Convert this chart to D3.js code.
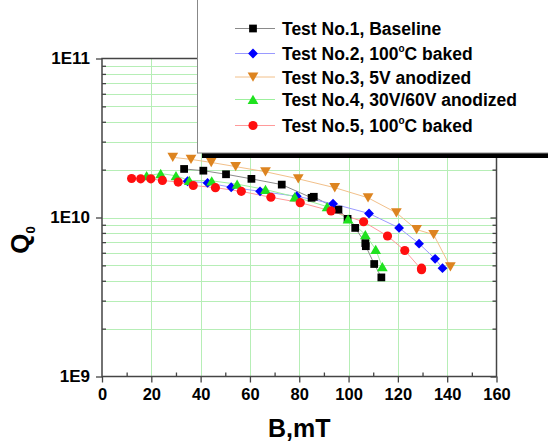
<!DOCTYPE html>
<html>
<head>
<meta charset="utf-8">
<script src="https://cdn.jsdelivr.net/npm/d3@7"></script>
<style>
  html, body { margin: 0; padding: 0; background: #fff; }
  svg { display: block; }
  text { font-family: "Liberation Sans", Arial, sans-serif; font-weight: bold; fill: #000; }
</style>
</head>
<body>
<script>
// ---- data ----
const xTickValues = [0, 20, 40, 60, 80, 100, 120, 140, 160];
const xMinorValues = [10, 30, 50, 70, 90, 110, 130, 150];
const yTickValues = [1e9, 1e10, 1e11];
const yTickLabels = ["1E9", "1E10", "1E11"];
const xTitle = "B,mT";

const test1B = [33.3, 41.1, 50.3, 60.6, 72.9, 85.0, 85.9, 95.9, 99.6, 102.7, 106.8, 107.0, 110.4, 113.3];
const test1Q = [2.02e10, 1.97e10, 1.87e10, 1.75e10, 1.61e10, 1.33e10, 1.35e10, 1.12e10, 9.8e9, 8.6e9, 6.9e9, 6.6e9, 5.1e9, 4.2e9];

const test2B = [34.7, 42.8, 52.4, 64.1, 79.0, 93.7, 108.3, 120.5, 128.6, 135.1, 138.1];
const test2Q = [1.69e10, 1.65e10, 1.55e10, 1.46e10, 1.36e10, 1.22e10, 1.06e10, 8.6e9, 6.85e9, 5.5e9, 4.8e9];

const test3B = [28.7, 36.1, 44.3, 54.2, 66.3, 79.6, 94.4, 107.9, 119.4, 127.6, 134.5, 141.3];
const test3Q = [2.39e10, 2.32e10, 2.22e10, 2.09e10, 1.94e10, 1.75e10, 1.54e10, 1.33e10, 1.07e10, 8.4e9, 7.8e9, 4.9e9];

const test4B = [18.1, 23.8, 30.0, 35.4, 44.5, 54.8, 66.3, 78.2, 91.3, 99.8, 106.8, 111.0, 113.7];
const test4Q = [1.83e10, 1.89e10, 1.83e10, 1.71e10, 1.70e10, 1.62e10, 1.50e10, 1.35e10, 1.17e10, 9.8e9, 7.8e9, 6.3e9, 4.9e9];

const test5B = [12.0, 15.7, 19.8, 24.5, 30.9, 37.0, 46.0, 56.5, 68.5, 80.4, 92.9, 106.1, 115.8, 122.8, 129.6, 129.6];
const test5Q = [1.76e10, 1.75e10, 1.75e10, 1.71e10, 1.67e10, 1.59e10, 1.54e10, 1.46e10, 1.34e10, 1.24e10, 1.10e10, 9.4e9, 7.65e9, 6.2e9, 4.7e9, 4.8e9];

const seriesNames = ["Test No.1, Baseline", "Test No.2, 100|C baked", "Test No.3, 5V anodized", "Test No.4, 30V/60V anodized", "Test No.5, 100|C baked"];
const seriesColors = ["#000000", "#0000ff", "#dd8420", "#1fe21f", "#ff0f0f"];
const lineColors = ["#8a8a8a", "#9a9aff", "#f2c08a", "#9cf09c", "#ff9a9a"];
const seriesSymbols = ["square", "diamond", "down", "up", "circle"];

const series = [
  {B: test1B, Q: test1Q},
  {B: test2B, Q: test2Q},
  {B: test3B, Q: test3Q},
  {B: test4B, Q: test4Q},
  {B: test5B, Q: test5Q}
].map((s, i) => ({
  name: seriesNames[i], color: seriesColors[i], lineColor: lineColors[i], sym: seriesSymbols[i],
  pts: s.B.map((b, j) => ({b: b, q: s.Q[j]}))
}));

// ---- layout ----
const W = 548, H = 444;
const svg = d3.select("body").append("svg").attr("width", W).attr("height", H);

const x = d3.scaleLinear().domain([0, 160]).range([102, 496.5]);
const y = d3.scaleLog().domain([1e9, 1e11]).range([376.5, 58.5]);

const yMinor = [];
[1e9, 1e10].forEach(d => { for (let k = 2; k <= 9; k++) yMinor.push(k * d); });

// grid
const grid = svg.append("g").attr("stroke", "#b6eeb6").attr("stroke-width", 1);
grid.selectAll("line.h").data(yMinor.concat([1e10])).join("line")
  .attr("x1", x(0)).attr("x2", x(160))
  .attr("y1", d => Math.round(y(d)) + 0.5).attr("y2", d => Math.round(y(d)) + 0.5);
grid.selectAll("line.v").data(xTickValues.slice(1, -1)).join("line")
  .attr("y1", y(1e9)).attr("y2", y(1e11))
  .attr("x1", d => Math.round(x(d)) + 0.5).attr("x2", d => Math.round(x(d)) + 0.5);

// series lines
const line = d3.line().x(d => x(d.b)).y(d => y(d.q));
series.forEach(s => {
  svg.append("path").datum(s.pts).attr("d", line)
    .attr("fill", "none").attr("stroke", s.lineColor).attr("stroke-width", 1);
});

function symbolPath(sym) {
  if (sym === "square") return d3.symbol(d3.symbolSquare, 60)();
  if (sym === "diamond") return d3.symbol(d3.symbolSquare, 48)();
  if (sym === "up" || sym === "down") return d3.symbol(d3.symbolTriangle, 50)();
  return d3.symbol(d3.symbolCircle, 66)();
}
function symbolRot(sym) {
  if (sym === "diamond") return 45;
  if (sym === "down") return 180;
  return 0;
}

// markers
series.forEach(s => {
  svg.append("g").selectAll("path").data(s.pts).join("path")
    .attr("d", symbolPath(s.sym))
    .attr("transform", d => `translate(${x(d.b)},${y(d.q)}) rotate(${symbolRot(s.sym)})` + ((s.sym === "up" || s.sym === "down") ? " translate(0,1.5)" : ""))
    .attr("fill", s.color);
});

// axes
const axisColor = "#444";
function styleAxis(g) {
  g.select(".domain").remove();
  g.selectAll(".tick line").attr("stroke", axisColor).attr("stroke-width", 1.3);
  g.selectAll("text").attr("font-family", "Liberation Sans, Arial, sans-serif").attr("font-weight", "bold").attr("fill", "#000");
}

const gx = svg.append("g").attr("transform", `translate(0,${y(1e9)})`)
  .call(d3.axisBottom(x).tickValues(xTickValues).tickSize(6).tickPadding(5.5).tickFormat(d3.format("d")));
styleAxis(gx);
gx.selectAll("text").attr("font-size", 16.5);

const gxm = svg.append("g").attr("transform", `translate(0,${y(1e9)})`)
  .call(d3.axisBottom(x).tickValues(xMinorValues).tickSize(-4).tickFormat(""));
styleAxis(gxm);

const gy = svg.append("g").attr("transform", `translate(${x(0)},0)`)
  .call(d3.axisLeft(y).tickValues(yTickValues).tickSize(6).tickPadding(6).tickFormat((d, i) => yTickLabels[i]));
styleAxis(gy);
gy.selectAll("text").attr("font-size", 17);

const gym = svg.append("g").attr("transform", `translate(${x(0)},0)`)
  .call(d3.axisLeft(y).tickValues(yMinor).tickSize(-4).tickFormat(""));
styleAxis(gym);

const gyr = svg.append("g").attr("transform", `translate(${x(160)},0)`)
  .call(d3.axisRight(y).tickValues(yMinor).tickSize(-4).tickFormat(""));
styleAxis(gyr);
const gyr2 = svg.append("g").attr("transform", `translate(${x(160)},0)`)
  .call(d3.axisRight(y).tickValues(yTickValues).tickSize(-6).tickFormat(""));
styleAxis(gyr2);

// frame
svg.append("rect")
  .attr("x", x(0)).attr("y", y(1e11))
  .attr("width", x(160) - x(0)).attr("height", y(1e9) - y(1e11))
  .attr("fill", "none").attr("stroke", axisColor).attr("stroke-width", 1.5);

// axis titles
svg.append("text").attr("x", (x(0) + x(160)) / 2).attr("y", 437)
  .attr("text-anchor", "middle").attr("font-size", 25).text(xTitle);

const qt = svg.append("text").attr("transform", "translate(29,240) rotate(-90)")
  .attr("text-anchor", "middle").attr("font-size", 26);
qt.append("tspan").text("Q");
qt.append("tspan").attr("font-size", 13).attr("dy", 6).text("0");

// legend
const lg = svg.append("g");
lg.append("rect").attr("x", 202).attr("y", 150).attr("width", 360).attr("height", 8).attr("fill", "#000");
lg.append("rect").attr("x", 197.5).attr("y", -5).attr("width", 370).attr("height", 158)
  .attr("fill", "#fff").attr("stroke", "#888").attr("stroke-width", 1);

const rowY = [28.5, 53.5, 77, 99.5, 125.5];
series.forEach((s, i) => {
  const r = lg.append("g").attr("transform", `translate(0,${rowY[i]})`);
  r.append("line").attr("x1", 235).attr("x2", 275).attr("y1", 0).attr("y2", 0)
    .attr("stroke", s.lineColor).attr("stroke-width", 1);
  r.append("path").attr("d", symbolPath(s.sym))
    .attr("transform", `translate(253,0) rotate(${symbolRot(s.sym)})` + ((s.sym === "up" || s.sym === "down") ? " translate(0,1.5)" : ""))
    .attr("fill", s.color);
  const t = r.append("text").attr("x", 282).attr("y", 6.5).attr("font-size", 17.5);
  const parts = s.name.split("|");
  t.append("tspan").text(parts[0]);
  if (parts.length > 1) {
    t.append("tspan").attr("font-size", 10).attr("dy", -8).text("o");
    t.append("tspan").attr("dy", 8).text(parts[1]);
  }
});
</script>
</body>
</html>
